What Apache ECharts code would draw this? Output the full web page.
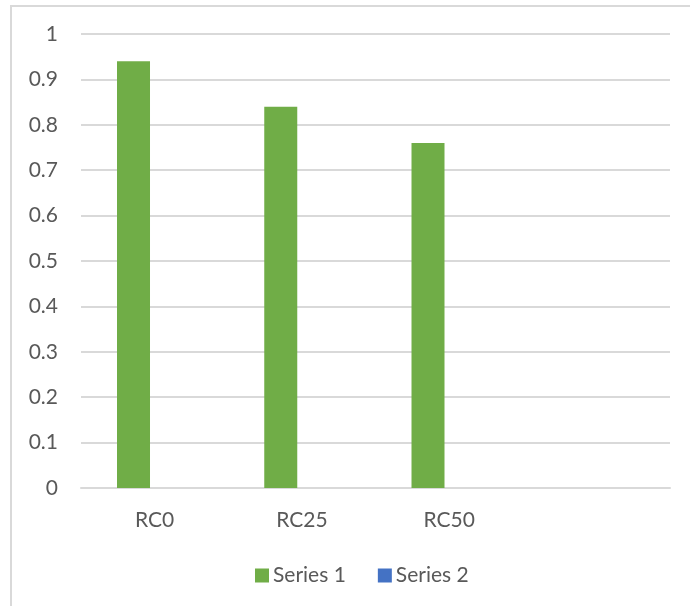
<!DOCTYPE html>
<html>
<head>
<meta charset="utf-8">
<script src="https://cdn.jsdelivr.net/npm/echarts@6/dist/echarts.min.js"></script>
<style>
html,body{margin:0;padding:0;background:#fff;overflow:hidden;}
#frame{position:absolute;left:10px;top:5px;width:760px;height:700px;border-left:2px solid #d9d9d9;border-top:2px solid #d9d9d9;box-sizing:border-box;}
#chart{position:absolute;left:0;top:0;width:690px;height:606px;}
</style>
</head>
<body>
<div id="frame"></div>
<div id="chart"></div>
<script>
const categories = ["RC0", "RC25", "RC50", ""];
const series1 = [0.94, 0.84, 0.76, null];
const series2 = [0, 0, 0, null];
const yTicks = [0, 0.1, 0.2, 0.3, 0.4, 0.5, 0.6, 0.7, 0.8, 0.9, 1];

const chart = echarts.init(document.getElementById('chart'), null, {renderer: 'canvas'});
const textColor = '#595959';
const font = 'Lato, "Liberation Sans", sans-serif';
chart.setOption({
  backgroundColor: 'transparent',
  animation: false,
  grid: {left: 81, right: 20, top: 34, bottom: 118, containLabel: false},
  legend: {
    data: ['Series 1', 'Series 2'],
    left: 255, top: 565, padding: 0,
    itemWidth: 14, itemHeight: 14, itemGap: 32,
    icon: 'rect',
    textStyle: {color: textColor, fontSize: 21, fontFamily: font, padding: [0, 0, 0, -1]}
  },
  xAxis: {
    type: 'category',
    data: categories,
    axisLine: {show: true, lineStyle: {color: '#d9d9d9', width: 2}},
    axisTick: {show: false},
    axisLabel: {color: textColor, fontSize: 21, fontFamily: font, margin: 22}
  },
  yAxis: {
    type: 'value',
    min: yTicks[0], max: yTicks[yTicks.length - 1], interval: 0.1,
    axisLine: {show: false},
    axisTick: {show: false},
    axisLabel: {color: textColor, fontSize: 21, fontFamily: font, margin: 23,
      formatter: v => String(Math.round(v * 10) / 10)},
    splitLine: {lineStyle: {color: '#d9d9d9', width: 2}}
  },
  series: [
    {name: 'Series 1', type: 'bar', data: series1, barWidth: 33, barGap: '28%',
      itemStyle: {color: '#70AD47'}},
    {name: 'Series 2', type: 'bar', data: series2, barWidth: 33,
      itemStyle: {color: '#4472C4'}}
  ]
});
</script>
</body>
</html>
